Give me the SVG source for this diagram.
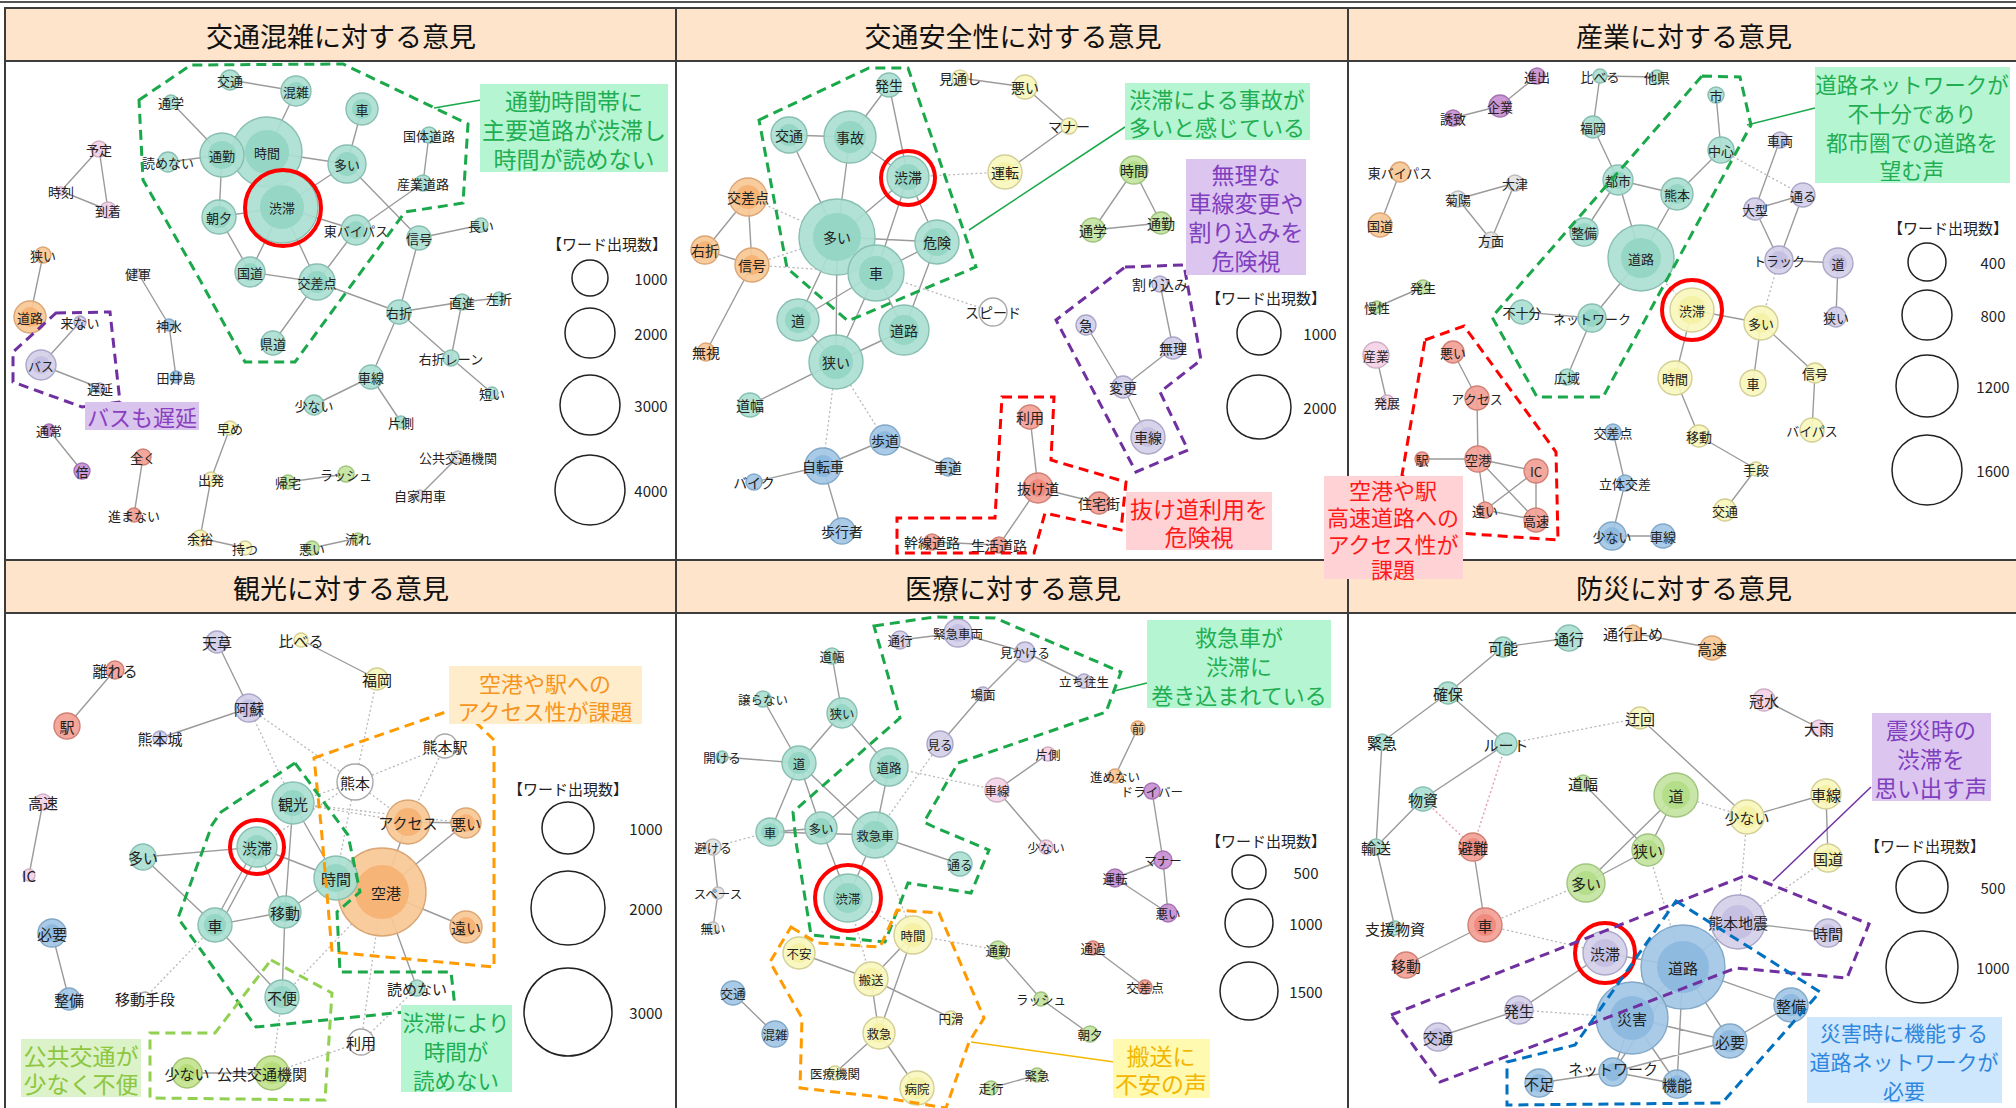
<svg xmlns="http://www.w3.org/2000/svg" width="2016" height="1108" viewBox="0 0 2016 1108">
<style>
.bg{fill:#fff}
.hd{fill:#fde4ca;stroke:#3c3c3c;stroke-width:2}
.pn{fill:#fff;stroke:#3c3c3c;stroke-width:2}
.tt{font-family:"Noto Sans CJK JP","Noto Sans CJK SC",sans-serif;font-size:27px;fill:#111;text-anchor:middle;dominant-baseline:central}
.e{fill:none;stroke:#9b9b9b;stroke-width:1.4}
.d{fill:none;stroke:#b8b8b8;stroke-width:1.3;stroke-dasharray:2 2.5}
.dp{fill:none;stroke:#e6a0b4;stroke-width:1.5;stroke-dasharray:2 2.5}
.nd circle{stroke-width:1.4;fill-opacity:.92}
.nd text{font-family:"Noto Sans CJK JP","Noto Sans CJK SC",sans-serif;fill:#222;text-anchor:middle;dominant-baseline:central}
.f12 text{font-size:12.5px}.f13 text{font-size:13px}.f14 text{font-size:14px}.f15 text{font-size:15px}
.t{fill:#aadfd1;stroke:#88bfb1}.t2{fill:#92d5c3;stroke:none}
.o{fill:#f9c896;stroke:#dba675}.o2{fill:#f6b274;stroke:none}
.p{fill:#d3cfe8;stroke:#aba7c8}.p2{fill:#c4bfe1;stroke:none}
.y{fill:#f8f6bd;stroke:#d3cf95}.y2{fill:#f4f1a6;stroke:none}
.g{fill:#c3e4a0;stroke:#a0c57e}.g2{fill:#b3dd88;stroke:none}
.b{fill:#a3c7e5;stroke:#82a8c8}.b2{fill:#8db9df;stroke:none}
.k{fill:#f4d3e7;stroke:#d0b0c4}
.r{fill:#f3a095;stroke:#d08075}.r2{fill:#ef8a7d;stroke:none}
.m{fill:#c88fd2;stroke:#a673b2}
.w{fill:#fff;stroke:#a8a8a8}
.s{fill:#e4e4e4;stroke:#bcbcbc}
.l{fill:#c4e38f;stroke:#a2c46e}.l2{fill:#b5dc78;stroke:none}
.ring{fill:none;stroke:#f00;stroke-width:4}
.zg{fill:none;stroke:#1aa84a;stroke-width:3;stroke-dasharray:10 6}
.zp{fill:none;stroke:#7030a0;stroke-width:3;stroke-dasharray:10 6}
.zr{fill:none;stroke:#ff0000;stroke-width:3;stroke-dasharray:10 6}
.zo{fill:none;stroke:#ff9a00;stroke-width:3;stroke-dasharray:10 6}
.zl{fill:none;stroke:#92d050;stroke-width:3;stroke-dasharray:10 6}
.zb{fill:none;stroke:#0070c0;stroke-width:3;stroke-dasharray:10 6}
.an{font-family:"Noto Sans CJK JP","Noto Sans CJK SC",sans-serif;text-anchor:middle;dominant-baseline:central}
.lg text{font-family:"Noto Sans CJK JP","Noto Sans CJK SC",sans-serif;font-size:15px;fill:#222;text-anchor:middle;dominant-baseline:central}
.lg circle{fill:none;stroke:#222;stroke-width:1.5}
</style>
<rect class="bg" x="0" y="0" width="2016" height="1108"/>
<g id="frame">
<line x1="0" y1="2" x2="2016" y2="2" stroke="#555" stroke-width="2"/>
<rect class="pn" x="5" y="61" width="671" height="499"/>
<rect class="pn" x="676" y="61" width="672" height="499"/>
<rect class="pn" x="1348" y="61" width="672" height="499"/>
<rect class="pn" x="5" y="613" width="671" height="500"/>
<rect class="pn" x="676" y="613" width="672" height="500"/>
<rect class="pn" x="1348" y="613" width="672" height="500"/>
<rect class="hd" x="5" y="8" width="671" height="53"/>
<rect class="hd" x="676" y="8" width="672" height="53"/>
<rect class="hd" x="1348" y="8" width="672" height="53"/>
<rect class="hd" x="5" y="560" width="671" height="53"/>
<rect class="hd" x="676" y="560" width="672" height="53"/>
<rect class="hd" x="1348" y="560" width="672" height="53"/>
<text class="tt" x="341" y="35">交通混雑に対する意見</text>
<text class="tt" x="1013" y="35">交通安全性に対する意見</text>
<text class="tt" x="1684" y="35">産業に対する意見</text>
<text class="tt" x="341" y="587">観光に対する意見</text>
<text class="tt" x="1013" y="587">医療に対する意見</text>
<text class="tt" x="1684" y="587">防災に対する意見</text>
</g>
<g id="connectors">
<path class="e" d="M230 80L296 91M296 91L267 152M171 102L222 155M168 162L222 155M222 155L267 152M267 152L347 164M362 109L347 164M267 152L282 207M222 155L219 217M219 217L282 207M282 207L347 164M282 207L356 230M347 164L419 238M429 135L423 183M423 183L356 230M219 217L250 272M282 207L250 272M250 272L317 282M282 207L317 282M356 230L317 282M419 238L481 225M419 238L399 312M317 282L399 312M317 282L273 343M399 312L462 302M462 302L499 298M462 302L451 358M399 312L451 358M451 358L492 393M399 312L371 377M371 377L314 405M371 377L401 422M99 149L61 191M99 149L108 210M61 191L108 210M43 255L30 317M138 273L169 325M169 325L176 377M80 322L41 365M41 365L100 388M49 430L82 471M143 457L134 515M230 428L211 479M211 479L200 538M200 538L245 548M288 482L346 474M312 548L358 538M458 457L420 495"/>
<path class="e" d="M889 85L850 137M889 85L908 177M960 78L1025 87M1025 87L1069 126M1069 126L1005 172M789 135L850 137M789 135L837 237M850 137L908 177M850 137L837 237M908 177L837 237M908 177L876 273M908 177L937 242M837 237L937 242M876 273L937 242M837 237L876 273M748 197L705 250M748 197L752 265M705 250L752 265M752 265L706 352M1134 170L1093 230M1134 170L1161 223M1093 230L1161 223M837 237L798 320M837 237L836 362M876 273L798 320M876 273L836 362M876 273L904 330M937 242L904 330M798 320L836 362M836 362L904 330M836 362L750 405M885 440L823 466M885 440L948 467M823 466L754 482M823 466L842 531M1160 284L1173 348M1173 348L1123 387M1086 325L1123 387M1123 387L1148 437M1030 417L1038 488M1038 488L1099 503M1038 488L999 545M932 542L999 545"/>
<path class="d" d="M908 177L1005 172M748 197L837 237M752 265L837 237M752 265L876 273M876 273L993 312M836 362L885 440M836 362L823 466"/>
<path class="e" d="M1537 76L1500 106M1500 106L1453 118M1600 76L1657 77M1600 76L1593 127M1593 127L1618 180M1716 95L1721 150M1721 150L1677 194M1618 180L1677 194M1618 180L1584 232M1618 180L1641 258M1677 194L1641 258M1641 258L1592 318M1400 172L1380 225M1458 199L1515 183M1458 199L1491 240M1515 183L1491 240M1780 140L1755 209M1755 209L1803 195M1755 209L1779 260M1803 195L1779 260M1779 260L1838 263M1838 263L1836 317M1423 287L1377 307M1376 355L1387 402M1522 312L1592 318M1592 318L1567 377M1692 310L1761 323M1692 310L1675 378M1761 323L1753 383M1761 323L1815 373M1815 373L1812 430M1675 378L1699 436M1699 436L1756 469M1756 469L1725 510M1613 432L1625 483M1625 483L1612 536M1612 536L1663 536M1453 352L1477 398M1477 398L1478 459M1422 459L1478 459M1478 459L1536 471M1478 459L1485 510M1478 459L1536 520M1536 471L1485 510M1536 471L1536 520M1485 510L1536 520"/>
<path class="d" d="M1721 150L1803 195M1641 258L1692 310M1779 260L1761 323"/>
<path class="e" d="M217 642L249 708M249 708L160 738M115 670L67 726M301 640L377 679M43 802L29 875M293 803L285 912M293 803L336 878M257 847L143 857M254 849L212 927M261 849L219 927M257 847L285 912M257 847L336 878M143 857L215 925M215 925L285 912M215 925L282 997M285 912L282 997M285 912L336 878M336 878L382 892M408 822L382 892M408 822L466 823M466 823L382 892M382 892L466 927M382 892L417 988M52 933L69 999M187 1073L272 1073"/>
<path class="d" d="M249 708L293 803M249 708L355 782M377 679L355 782M445 746L355 782M445 746L408 822M355 782L293 803M355 782L408 822M355 782L336 878M293 803L408 822M257 847L355 782M145 998L215 925M282 997L272 1073M361 1042L272 1073M361 1042L382 892M282 997L382 892M293 803L466 823M417 988L361 1042"/>
<path class="e" d="M900 640L958 633M958 633L1025 652M1025 652L1084 681M1025 652L983 694M983 694L940 744M832 656L842 713M842 713L799 763M842 713L889 767M763 699L799 763M722 757L799 763M799 763L770 832M799 763L821 828M799 763L875 835M889 767L821 828M889 767L875 835M770 832L821 828M770 832L875 835M821 828L848 898M875 835L848 898M875 835L960 864M1048 754L997 790M997 790L1046 847M1138 728L1115 776M1152 791L1163 860M713 847L718 893M718 893L713 928M913 935L871 979M913 935L879 1033M799 953L871 979M871 979L951 1018M871 979L879 1033M879 1033L835 1073M879 1033L917 1088M733 993L775 1034M998 950L1041 999M1041 999L1090 1034M1093 948L1145 987M1163 860L1115 878M1163 860L1168 913M1115 878L1168 913M991 1088L1037 1075"/>
<path class="d" d="M713 847L770 832M889 767L997 790M940 744L875 835M875 835L913 935M848 898L871 979M913 935L998 950M848 898L913 935"/>
<path class="e" d="M1503 647L1569 638M1633 633L1712 648M1503 647L1448 693M1448 693L1382 742M1448 693L1506 744M1506 744L1423 799M1764 700L1819 728M1640 718L1747 817M1747 817L1826 794M1826 794L1828 858M1583 783L1648 850M1676 795L1648 850M1676 795L1586 883M1648 850L1586 883M1382 742L1376 847M1423 799L1376 847M1376 847L1395 928M1473 847L1485 925M1485 925L1406 965M1738 922L1828 933M1738 922L1683 967M1605 953L1683 967M1605 953L1519 1010M1519 1010L1438 1037M1683 967L1632 1018M1683 967L1791 1005M1683 967L1730 1041M1683 967L1677 1084M1683 967L1613 1072M1632 1018L1730 1041M1632 1018L1613 1072M1632 1018L1677 1084M1791 1005L1730 1041M1730 1041L1613 1072M1613 1072L1539 1083M1613 1072L1677 1084"/>
<path class="d" d="M1506 744L1640 718M1676 795L1747 817M1485 925L1586 883M1485 925L1605 953M1519 1010L1632 1018M1738 922L1828 858M1648 850L1683 967M1747 817L1738 922"/>
<path class="dp" d="M1506 744L1473 847M1423 799L1473 847"/>
</g>
<g id="nodes-p1" class="nd f13">
<g id="p1-kotsu"><circle class="t" cx="230" cy="80" r="10"/><text x="230" y="80">交通</text></g>
<g id="p1-konzatsu"><circle class="t" cx="296" cy="91" r="15"/><circle class="t2" cx="296" cy="91" r="9"/><text x="296" y="91">混雑</text></g>
<g id="p1-tsugaku"><circle class="t" cx="171" cy="102" r="7"/><text x="171" y="102">通学</text></g>
<g id="p1-kuruma"><circle class="t" cx="362" cy="109" r="16"/><circle class="t2" cx="362" cy="109" r="10"/><text x="362" y="109">車</text></g>
<g id="p1-jikan"><circle class="t" cx="267" cy="152" r="35"/><circle class="t2" cx="267" cy="152" r="22"/><text x="267" y="152">時間</text></g>
<g id="p1-tsukin"><circle class="t" cx="222" cy="155" r="22"/><circle class="t2" cx="222" cy="155" r="14"/><text x="222" y="155">通勤</text></g>
<g id="p1-yomenai"><circle class="t" cx="168" cy="162" r="10"/><text x="168" y="162">読めない</text></g>
<g id="p1-ooi"><circle class="t" cx="347" cy="164" r="19"/><circle class="t2" cx="347" cy="164" r="12"/><text x="347" y="164">多い</text></g>
<g id="p1-kokutai"><circle class="t" cx="429" cy="135" r="8"/><text x="429" y="135">国体道路</text></g>
<g id="p1-sangyo"><circle class="t" cx="423" cy="183" r="8"/><text x="423" y="183">産業道路</text></g>
<g id="p1-jutai"><circle class="t" cx="282" cy="207" r="36"/><circle class="t2" cx="282" cy="207" r="22"/><text x="282" y="207">渋滞</text></g>
<g id="p1-choseki"><circle class="t" cx="219" cy="217" r="17"/><circle class="t2" cx="219" cy="217" r="11"/><text x="219" y="217">朝夕</text></g>
<g id="p1-higashi"><circle class="t" cx="356" cy="230" r="15"/><circle class="t2" cx="356" cy="230" r="9"/><text x="356" y="230">東バイパス</text></g>
<g id="p1-shingo"><circle class="t" cx="419" cy="238" r="12"/><text x="419" y="238">信号</text></g>
<g id="p1-nagai"><circle class="t" cx="481" cy="225" r="7"/><text x="481" y="225">長い</text></g>
<g id="p1-yotei"><circle class="k" cx="99" cy="149" r="8"/><text x="99" y="149">予定</text></g>
<g id="p1-jikoku"><circle class="k" cx="61" cy="191" r="4"/><text x="61" y="191">時刻</text></g>
<g id="p1-tochaku"><circle class="k" cx="108" cy="210" r="8"/><text x="108" y="210">到着</text></g>
<g id="p1-semai"><circle class="o" cx="43" cy="255" r="8"/><text x="43" y="255">狭い</text></g>
<g id="p1-kengun"><circle class="s" cx="138" cy="273" r="4"/><text x="138" y="273">健軍</text></g>
<g id="p1-kokudo"><circle class="t" cx="250" cy="272" r="15"/><circle class="t2" cx="250" cy="272" r="9"/><text x="250" y="272">国道</text></g>
<g id="p1-kosaten"><circle class="t" cx="317" cy="282" r="18"/><circle class="t2" cx="317" cy="282" r="11"/><text x="317" y="282">交差点</text></g>
<g id="p1-doro"><circle class="o" cx="30" cy="317" r="16"/><circle class="o2" cx="30" cy="317" r="10"/><text x="30" y="317">道路</text></g>
<g id="p1-konai"><circle class="p" cx="80" cy="322" r="6"/><text x="80" y="322">来ない</text></g>
<g id="p1-bus"><circle class="p" cx="41" cy="365" r="15"/><circle class="p2" cx="41" cy="365" r="9"/><text x="41" y="365">バス</text></g>
<g id="p1-chien"><circle class="p" cx="100" cy="388" r="5"/><text x="100" y="388">遅延</text></g>
<g id="p1-kuwamizu"><circle class="b" cx="169" cy="325" r="6"/><text x="169" y="325">神水</text></g>
<g id="p1-taijima"><circle class="b" cx="176" cy="377" r="6"/><text x="176" y="377">田井島</text></g>
<g id="p1-kendo"><circle class="t" cx="273" cy="343" r="12"/><text x="273" y="343">県道</text></g>
<g id="p1-usetsu"><circle class="t" cx="399" cy="312" r="12"/><text x="399" y="312">右折</text></g>
<g id="p1-chokushin"><circle class="t" cx="462" cy="302" r="8"/><text x="462" y="302">直進</text></g>
<g id="p1-sasetsu"><circle class="t" cx="499" cy="298" r="6"/><text x="499" y="298">左折</text></g>
<g id="p1-lane"><circle class="t" cx="451" cy="358" r="8"/><text x="451" y="358">右折レーン</text></g>
<g id="p1-shasen"><circle class="t" cx="371" cy="377" r="12"/><text x="371" y="377">車線</text></g>
<g id="p1-sukunai"><circle class="t" cx="314" cy="405" r="10"/><text x="314" y="405">少ない</text></g>
<g id="p1-mijikai"><circle class="t" cx="492" cy="393" r="6"/><text x="492" y="393">短い</text></g>
<g id="p1-katagawa"><circle class="t" cx="401" cy="422" r="6"/><text x="401" y="422">片側</text></g>
<g id="p1-tsujo"><circle class="m" cx="49" cy="430" r="6"/><text x="49" y="430">通常</text></g>
<g id="p1-bai"><circle class="m" cx="82" cy="471" r="8"/><text x="82" y="471">倍</text></g>
<g id="p1-mattaku"><circle class="r" cx="143" cy="457" r="8"/><text x="143" y="457">全く</text></g>
<g id="p1-susumanai"><circle class="r" cx="134" cy="515" r="7"/><text x="134" y="515">進まない</text></g>
<g id="p1-hayame"><circle class="y" cx="230" cy="428" r="7"/><text x="230" y="428">早め</text></g>
<g id="p1-shuppatsu"><circle class="y" cx="211" cy="479" r="7"/><text x="211" y="479">出発</text></g>
<g id="p1-yoyu"><circle class="y" cx="200" cy="538" r="8"/><text x="200" y="538">余裕</text></g>
<g id="p1-motsu"><circle class="y" cx="245" cy="548" r="7"/><text x="245" y="548">持つ</text></g>
<g id="p1-kitaku"><circle class="g" cx="288" cy="482" r="7"/><text x="288" y="482">帰宅</text></g>
<g id="p1-rush"><circle class="g" cx="346" cy="474" r="8"/><text x="346" y="474">ラッシュ</text></g>
<g id="p1-warui"><circle class="g" cx="312" cy="548" r="7"/><text x="312" y="548">悪い</text></g>
<g id="p1-nagare"><circle class="g" cx="358" cy="538" r="5"/><text x="358" y="538">流れ</text></g>
<g id="p1-kokyo"><circle class="s" cx="458" cy="457" r="6"/><text x="458" y="457">公共交通機関</text></g>
<g id="p1-jikayo"><circle class="s" cx="420" cy="495" r="5"/><text x="420" y="495">自家用車</text></g>
</g>
<g id="nodes-p2" class="nd f14">
<g id="p2-hassei"><circle class="t" cx="889" cy="85" r="12"/><text x="889" y="85">発生</text></g>
<g id="p2-miooshi"><circle class="y" cx="960" cy="78" r="8"/><text x="960" y="78">見通し</text></g>
<g id="p2-warui"><circle class="y" cx="1025" cy="87" r="12"/><text x="1025" y="87">悪い</text></g>
<g id="p2-manner"><circle class="y" cx="1069" cy="126" r="8"/><text x="1069" y="126">マナー</text></g>
<g id="p2-kotsu"><circle class="t" cx="789" cy="135" r="18"/><circle class="t2" cx="789" cy="135" r="11"/><text x="789" y="135">交通</text></g>
<g id="p2-jiko"><circle class="t" cx="850" cy="137" r="26"/><circle class="t2" cx="850" cy="137" r="16"/><text x="850" y="137">事故</text></g>
<g id="p2-jutai"><circle class="t" cx="908" cy="177" r="21"/><circle class="t2" cx="908" cy="177" r="13"/><text x="908" y="177">渋滞</text></g>
<g id="p2-unten"><circle class="y" cx="1005" cy="172" r="17"/><circle class="y2" cx="1005" cy="172" r="10"/><text x="1005" y="172">運転</text></g>
<g id="p2-kosaten"><circle class="o" cx="748" cy="197" r="19"/><circle class="o2" cx="748" cy="197" r="12"/><text x="748" y="197">交差点</text></g>
<g id="p2-ooi"><circle class="t" cx="837" cy="237" r="38"/><circle class="t2" cx="837" cy="237" r="24"/><text x="837" y="237">多い</text></g>
<g id="p2-kiken"><circle class="t" cx="937" cy="242" r="22"/><circle class="t2" cx="937" cy="242" r="14"/><text x="937" y="242">危険</text></g>
<g id="p2-usetsu"><circle class="o" cx="705" cy="250" r="14"/><circle class="o2" cx="705" cy="250" r="9"/><text x="705" y="250">右折</text></g>
<g id="p2-shingo"><circle class="o" cx="752" cy="265" r="17"/><circle class="o2" cx="752" cy="265" r="10"/><text x="752" y="265">信号</text></g>
<g id="p2-kuruma"><circle class="t" cx="876" cy="273" r="28"/><circle class="t2" cx="876" cy="273" r="17"/><text x="876" y="273">車</text></g>
<g id="p2-jikan"><circle class="g" cx="1134" cy="170" r="14"/><circle class="g2" cx="1134" cy="170" r="9"/><text x="1134" y="170">時間</text></g>
<g id="p2-tsugaku"><circle class="g" cx="1093" cy="230" r="12"/><text x="1093" y="230">通学</text></g>
<g id="p2-tsukin"><circle class="g" cx="1161" cy="223" r="11"/><text x="1161" y="223">通勤</text></g>
<g id="p2-michi"><circle class="t" cx="798" cy="320" r="21"/><circle class="t2" cx="798" cy="320" r="13"/><text x="798" y="320">道</text></g>
<g id="p2-doro"><circle class="t" cx="904" cy="330" r="25"/><circle class="t2" cx="904" cy="330" r="15"/><text x="904" y="330">道路</text></g>
<g id="p2-semai"><circle class="t" cx="836" cy="362" r="27"/><circle class="t2" cx="836" cy="362" r="17"/><text x="836" y="362">狭い</text></g>
<g id="p2-speed"><circle class="w" cx="993" cy="312" r="14"/><text x="993" y="312">スピード</text></g>
<g id="p2-mushi"><circle class="o" cx="706" cy="352" r="9"/><text x="706" y="352">無視</text></g>
<g id="p2-michihaba"><circle class="t" cx="750" cy="405" r="12"/><text x="750" y="405">道幅</text></g>
<g id="p2-hodo"><circle class="b" cx="885" cy="440" r="15"/><circle class="b2" cx="885" cy="440" r="9"/><text x="885" y="440">歩道</text></g>
<g id="p2-jitensha"><circle class="b" cx="823" cy="466" r="18"/><circle class="b2" cx="823" cy="466" r="11"/><text x="823" y="466">自転車</text></g>
<g id="p2-shado"><circle class="b" cx="948" cy="467" r="9"/><text x="948" y="467">車道</text></g>
<g id="p2-bike"><circle class="b" cx="754" cy="482" r="8"/><text x="754" y="482">バイク</text></g>
<g id="p2-hokosha"><circle class="b" cx="842" cy="531" r="13"/><text x="842" y="531">歩行者</text></g>
<g id="p2-kyu"><circle class="p" cx="1086" cy="325" r="10"/><text x="1086" y="325">急</text></g>
<g id="p2-warikomi"><circle class="p" cx="1160" cy="284" r="8"/><text x="1160" y="284">割り込み</text></g>
<g id="p2-muri"><circle class="p" cx="1173" cy="348" r="11"/><text x="1173" y="348">無理</text></g>
<g id="p2-henko"><circle class="p" cx="1123" cy="387" r="11"/><text x="1123" y="387">変更</text></g>
<g id="p2-shasen"><circle class="p" cx="1148" cy="437" r="17"/><circle class="p2" cx="1148" cy="437" r="10"/><text x="1148" y="437">車線</text></g>
<g id="p2-riyo"><circle class="r" cx="1030" cy="417" r="12"/><text x="1030" y="417">利用</text></g>
<g id="p2-nukemichi"><circle class="r" cx="1038" cy="488" r="15"/><circle class="r2" cx="1038" cy="488" r="9"/><text x="1038" y="488">抜け道</text></g>
<g id="p2-jutakugai"><circle class="r" cx="1099" cy="503" r="11"/><text x="1099" y="503">住宅街</text></g>
<g id="p2-kansen"><circle class="r" cx="932" cy="542" r="8"/><text x="932" y="542">幹線道路</text></g>
<g id="p2-seikatsu"><circle class="r" cx="999" cy="545" r="8"/><text x="999" y="545">生活道路</text></g>
</g>
<g id="nodes-p3" class="nd f13">
<g id="p3-shinshutsu"><circle class="m" cx="1537" cy="76" r="8"/><text x="1537" y="76">進出</text></g>
<g id="p3-kuraberu"><circle class="t" cx="1600" cy="76" r="7"/><text x="1600" y="76">比べる</text></g>
<g id="p3-taken"><circle class="t" cx="1657" cy="77" r="7"/><text x="1657" y="77">他県</text></g>
<g id="p3-kigyo"><circle class="m" cx="1500" cy="106" r="11"/><text x="1500" y="106">企業</text></g>
<g id="p3-yuchi"><circle class="m" cx="1453" cy="118" r="8"/><text x="1453" y="118">誘致</text></g>
<g id="p3-fukuoka"><circle class="t" cx="1593" cy="127" r="11"/><text x="1593" y="127">福岡</text></g>
<g id="p3-shi"><circle class="t" cx="1716" cy="95" r="8"/><text x="1716" y="95">市</text></g>
<g id="p3-chushin"><circle class="t" cx="1721" cy="150" r="13"/><text x="1721" y="150">中心</text></g>
<g id="p3-sharyo"><circle class="p" cx="1780" cy="140" r="8"/><text x="1780" y="140">車両</text></g>
<g id="p3-higashi"><circle class="o" cx="1400" cy="172" r="10"/><text x="1400" y="172">東バイパス</text></g>
<g id="p3-ozu"><circle class="s" cx="1515" cy="183" r="8"/><text x="1515" y="183">大津</text></g>
<g id="p3-kikuyo"><circle class="s" cx="1458" cy="199" r="8"/><text x="1458" y="199">菊陽</text></g>
<g id="p3-homen"><circle class="s" cx="1491" cy="240" r="8"/><text x="1491" y="240">方面</text></g>
<g id="p3-kokudo"><circle class="o" cx="1380" cy="225" r="12"/><text x="1380" y="225">国道</text></g>
<g id="p3-toshi"><circle class="t" cx="1618" cy="180" r="15"/><circle class="t2" cx="1618" cy="180" r="9"/><text x="1618" y="180">都市</text></g>
<g id="p3-kumamoto"><circle class="t" cx="1677" cy="194" r="16"/><circle class="t2" cx="1677" cy="194" r="10"/><text x="1677" y="194">熊本</text></g>
<g id="p3-seibi"><circle class="t" cx="1584" cy="232" r="14"/><circle class="t2" cx="1584" cy="232" r="9"/><text x="1584" y="232">整備</text></g>
<g id="p3-doro"><circle class="t" cx="1641" cy="258" r="33"/><circle class="t2" cx="1641" cy="258" r="20"/><text x="1641" y="258">道路</text></g>
<g id="p3-ogata"><circle class="p" cx="1755" cy="209" r="11"/><text x="1755" y="209">大型</text></g>
<g id="p3-tooru"><circle class="p" cx="1803" cy="195" r="12"/><text x="1803" y="195">通る</text></g>
<g id="p3-truck"><circle class="p" cx="1779" cy="260" r="14"/><circle class="p2" cx="1779" cy="260" r="9"/><text x="1779" y="260">トラック</text></g>
<g id="p3-michi"><circle class="p" cx="1838" cy="263" r="15"/><circle class="p2" cx="1838" cy="263" r="9"/><text x="1838" y="263">道</text></g>
<g id="p3-hassei"><circle class="g" cx="1423" cy="287" r="7"/><text x="1423" y="287">発生</text></g>
<g id="p3-mansei"><circle class="g" cx="1377" cy="307" r="6"/><text x="1377" y="307">慢性</text></g>
<g id="p3-sangyo"><circle class="k" cx="1376" cy="355" r="13"/><text x="1376" y="355">産業</text></g>
<g id="p3-hatten"><circle class="k" cx="1387" cy="402" r="7"/><text x="1387" y="402">発展</text></g>
<g id="p3-fujubun"><circle class="t" cx="1522" cy="312" r="12"/><text x="1522" y="312">不十分</text></g>
<g id="p3-network"><circle class="t" cx="1592" cy="318" r="14"/><circle class="t2" cx="1592" cy="318" r="9"/><text x="1592" y="318">ネットワーク</text></g>
<g id="p3-koiki"><circle class="t" cx="1567" cy="377" r="8"/><text x="1567" y="377">広域</text></g>
<g id="p3-jutai"><circle class="y" cx="1692" cy="310" r="22"/><circle class="y2" cx="1692" cy="310" r="14"/><text x="1692" y="310">渋滞</text></g>
<g id="p3-ooi"><circle class="y" cx="1761" cy="323" r="17"/><circle class="y2" cx="1761" cy="323" r="10"/><text x="1761" y="323">多い</text></g>
<g id="p3-jikan"><circle class="y" cx="1675" cy="378" r="17"/><circle class="y2" cx="1675" cy="378" r="10"/><text x="1675" y="378">時間</text></g>
<g id="p3-kuruma"><circle class="y" cx="1753" cy="383" r="13"/><text x="1753" y="383">車</text></g>
<g id="p3-shingo"><circle class="y" cx="1815" cy="373" r="10"/><text x="1815" y="373">信号</text></g>
<g id="p3-semai"><circle class="p" cx="1836" cy="317" r="10"/><text x="1836" y="317">狭い</text></g>
<g id="p3-bypass"><circle class="y" cx="1812" cy="430" r="12"/><text x="1812" y="430">バイパス</text></g>
<g id="p3-ido"><circle class="y" cx="1699" cy="436" r="11"/><text x="1699" y="436">移動</text></g>
<g id="p3-shudan"><circle class="y" cx="1756" cy="469" r="7"/><text x="1756" y="469">手段</text></g>
<g id="p3-kotsu"><circle class="y" cx="1725" cy="510" r="11"/><text x="1725" y="510">交通</text></g>
<g id="p3-kosaten"><circle class="b" cx="1613" cy="432" r="8"/><text x="1613" y="432">交差点</text></g>
<g id="p3-rittai"><circle class="b" cx="1625" cy="483" r="8"/><text x="1625" y="483">立体交差</text></g>
<g id="p3-sukunai"><circle class="b" cx="1612" cy="536" r="14"/><circle class="b2" cx="1612" cy="536" r="9"/><text x="1612" y="536">少ない</text></g>
<g id="p3-shasen"><circle class="b" cx="1663" cy="536" r="12"/><text x="1663" y="536">車線</text></g>
<g id="p3-warui"><circle class="r" cx="1453" cy="352" r="11"/><text x="1453" y="352">悪い</text></g>
<g id="p3-access"><circle class="r" cx="1477" cy="398" r="12"/><text x="1477" y="398">アクセス</text></g>
<g id="p3-eki"><circle class="r" cx="1422" cy="459" r="7"/><text x="1422" y="459">駅</text></g>
<g id="p3-kuko"><circle class="r" cx="1478" cy="459" r="13"/><text x="1478" y="459">空港</text></g>
<g id="p3-ic"><circle class="r" cx="1536" cy="471" r="12"/><text x="1536" y="471">IC</text></g>
<g id="p3-tooi"><circle class="r" cx="1485" cy="510" r="8"/><text x="1485" y="510">遠い</text></g>
<g id="p3-kosoku"><circle class="r" cx="1536" cy="520" r="12"/><text x="1536" y="520">高速</text></g>
</g>
<g id="nodes-p4" class="nd f15">
<g id="p4-amakusa"><circle class="p" cx="217" cy="642" r="11"/><text x="217" y="642">天草</text></g>
<g id="p4-kuraberu"><circle class="y" cx="301" cy="640" r="7"/><text x="301" y="640">比べる</text></g>
<g id="p4-hanareru"><circle class="r" cx="115" cy="670" r="9"/><text x="115" y="670">離れる</text></g>
<g id="p4-fukuoka"><circle class="y" cx="377" cy="679" r="11"/><text x="377" y="679">福岡</text></g>
<g id="p4-aso"><circle class="p" cx="249" cy="708" r="14"/><circle class="p2" cx="249" cy="708" r="9"/><text x="249" y="708">阿蘇</text></g>
<g id="p4-eki"><circle class="r" cx="67" cy="726" r="13"/><text x="67" y="726">駅</text></g>
<g id="p4-kumamotojo"><circle class="p" cx="160" cy="738" r="7"/><text x="160" y="738">熊本城</text></g>
<g id="p4-kumamotoeki"><circle class="w" cx="445" cy="746" r="12"/><text x="445" y="746">熊本駅</text></g>
<g id="p4-kumamoto"><circle class="w" cx="355" cy="782" r="18"/><text x="355" y="782">熊本</text></g>
<g id="p4-kanko"><circle class="t" cx="293" cy="803" r="21"/><circle class="t2" cx="293" cy="803" r="13"/><text x="293" y="803">観光</text></g>
<g id="p4-kosoku"><circle class="k" cx="43" cy="802" r="8"/><text x="43" y="802">高速</text></g>
<g id="p4-ooi"><circle class="t" cx="143" cy="857" r="13"/><text x="143" y="857">多い</text></g>
<g id="p4-jutai"><circle class="t" cx="257" cy="847" r="20"/><circle class="t2" cx="257" cy="847" r="12"/><text x="257" y="847">渋滞</text></g>
<g id="p4-ic"><circle class="k" cx="29" cy="875" r="6"/><text x="29" y="875">IC</text></g>
<g id="p4-kuko"><circle class="o" cx="382" cy="892" r="44"/><circle class="o2" cx="382" cy="892" r="27"/><text x="386" y="892">空港</text></g>
<g id="p4-jikan"><circle class="t" cx="336" cy="878" r="22" fill-opacity=".7"/><circle class="t2" cx="336" cy="878" r="14" fill-opacity=".7"/><text x="336" y="878">時間</text></g>
<g id="p4-access"><circle class="o" cx="408" cy="822" r="22"/><circle class="o2" cx="408" cy="822" r="14"/><text x="408" y="822">アクセス</text></g>
<g id="p4-warui"><circle class="o" cx="466" cy="823" r="15"/><circle class="o2" cx="466" cy="823" r="9"/><text x="466" y="823">悪い</text></g>
<g id="p4-tooi"><circle class="o" cx="466" cy="927" r="16"/><circle class="o2" cx="466" cy="927" r="10"/><text x="466" y="927">遠い</text></g>
<g id="p4-ido"><circle class="t" cx="285" cy="912" r="16"/><circle class="t2" cx="285" cy="912" r="10"/><text x="285" y="912">移動</text></g>
<g id="p4-kuruma"><circle class="t" cx="215" cy="925" r="17"/><circle class="t2" cx="215" cy="925" r="11"/><text x="215" y="925">車</text></g>
<g id="p4-hitsuyo"><circle class="b" cx="52" cy="933" r="14"/><circle class="b2" cx="52" cy="933" r="9"/><text x="52" y="933">必要</text></g>
<g id="p4-seibi"><circle class="b" cx="69" cy="999" r="11"/><text x="69" y="999">整備</text></g>
<g id="p4-idoshudan"><circle class="w" cx="145" cy="998" r="6"/><text x="145" y="998">移動手段</text></g>
<g id="p4-fuben"><circle class="t" cx="282" cy="997" r="17"/><circle class="t2" cx="282" cy="997" r="11"/><text x="282" y="997">不便</text></g>
<g id="p4-yomenai"><circle class="t" cx="417" cy="988" r="8"/><text x="417" y="988">読めない</text></g>
<g id="p4-riyo"><circle class="w" cx="361" cy="1042" r="13"/><text x="361" y="1042">利用</text></g>
<g id="p4-sukunai"><circle class="l" cx="187" cy="1073" r="15"/><circle class="l2" cx="187" cy="1073" r="9"/><text x="187" y="1073">少ない</text></g>
<g id="p4-kokyo"><circle class="l" cx="272" cy="1073" r="17"/><circle class="l2" cx="272" cy="1073" r="11"/><text x="262" y="1073">公共交通機関</text></g>
</g>
<g id="nodes-p5" class="nd f12">
<g id="p5-tsuko"><circle class="p" cx="900" cy="640" r="9"/><text x="900" y="640">通行</text></g>
<g id="p5-kinkyusharyo"><circle class="p" cx="958" cy="633" r="14"/><circle class="p2" cx="958" cy="633" r="9"/><text x="958" y="633">緊急車両</text></g>
<g id="p5-mikakeru"><circle class="p" cx="1025" cy="652" r="10"/><text x="1025" y="652">見かける</text></g>
<g id="p5-tachiojo"><circle class="p" cx="1084" cy="681" r="7"/><text x="1084" y="681">立ち往生</text></g>
<g id="p5-michihaba"><circle class="t" cx="832" cy="656" r="8"/><text x="832" y="656">道幅</text></g>
<g id="p5-yuzuranai"><circle class="t" cx="763" cy="699" r="8"/><text x="763" y="699">譲らない</text></g>
<g id="p5-bamen"><circle class="p" cx="983" cy="694" r="7"/><text x="983" y="694">場面</text></g>
<g id="p5-semai"><circle class="t" cx="842" cy="713" r="15"/><circle class="t2" cx="842" cy="713" r="9"/><text x="842" y="713">狭い</text></g>
<g id="p5-miru"><circle class="p" cx="940" cy="744" r="13"/><text x="940" y="744">見る</text></g>
<g id="p5-akeru"><circle class="t" cx="722" cy="757" r="6"/><text x="722" y="757">開ける</text></g>
<g id="p5-michi"><circle class="t" cx="799" cy="763" r="17"/><circle class="t2" cx="799" cy="763" r="11"/><text x="799" y="763">道</text></g>
<g id="p5-doro"><circle class="t" cx="889" cy="767" r="19"/><circle class="t2" cx="889" cy="767" r="12"/><text x="889" y="767">道路</text></g>
<g id="p5-katagawa"><circle class="k" cx="1048" cy="754" r="7"/><text x="1048" y="754">片側</text></g>
<g id="p5-mae"><circle class="o" cx="1138" cy="728" r="7"/><text x="1138" y="728">前</text></g>
<g id="p5-susumenai"><circle class="o" cx="1115" cy="776" r="7"/><text x="1115" y="776">進めない</text></g>
<g id="p5-driver"><circle class="m" cx="1152" cy="791" r="8"/><text x="1152" y="791">ドライバー</text></g>
<g id="p5-shasen"><circle class="k" cx="997" cy="790" r="12"/><text x="997" y="790">車線</text></g>
<g id="p5-kuruma"><circle class="t" cx="770" cy="832" r="14"/><circle class="t2" cx="770" cy="832" r="9"/><text x="770" y="832">車</text></g>
<g id="p5-ooi"><circle class="t" cx="821" cy="828" r="16"/><circle class="t2" cx="821" cy="828" r="10"/><text x="821" y="828">多い</text></g>
<g id="p5-kyukyusha"><circle class="t" cx="875" cy="835" r="23"/><circle class="t2" cx="875" cy="835" r="14"/><text x="875" y="835">救急車</text></g>
<g id="p5-sakeru"><circle class="s" cx="713" cy="847" r="8"/><text x="713" y="847">避ける</text></g>
<g id="p5-space"><circle class="s" cx="718" cy="893" r="6"/><text x="718" y="893">スペース</text></g>
<g id="p5-nai"><circle class="s" cx="713" cy="928" r="6"/><text x="713" y="928">無い</text></g>
<g id="p5-sukunai"><circle class="k" cx="1046" cy="847" r="7"/><text x="1046" y="847">少ない</text></g>
<g id="p5-manner"><circle class="m" cx="1163" cy="860" r="9"/><text x="1163" y="860">マナー</text></g>
<g id="p5-unten"><circle class="m" cx="1115" cy="878" r="9"/><text x="1115" y="878">運転</text></g>
<g id="p5-warui"><circle class="m" cx="1168" cy="913" r="9"/><text x="1168" y="913">悪い</text></g>
<g id="p5-jutai"><circle class="t" cx="848" cy="898" r="24"/><circle class="t2" cx="848" cy="898" r="15"/><text x="848" y="898">渋滞</text></g>
<g id="p5-tooru"><circle class="t" cx="960" cy="864" r="12"/><text x="960" y="864">通る</text></g>
<g id="p5-jikan"><circle class="y" cx="913" cy="935" r="19"/><circle class="y2" cx="913" cy="935" r="12"/><text x="913" y="935">時間</text></g>
<g id="p5-fuan"><circle class="y" cx="799" cy="953" r="16"/><circle class="y2" cx="799" cy="953" r="10"/><text x="799" y="953">不安</text></g>
<g id="p5-hanso"><circle class="y" cx="871" cy="979" r="17"/><circle class="y2" cx="871" cy="979" r="11"/><text x="871" y="979">搬送</text></g>
<g id="p5-tsukin"><circle class="g" cx="998" cy="950" r="9"/><text x="998" y="950">通勤</text></g>
<g id="p5-tsuka"><circle class="r" cx="1093" cy="948" r="7"/><text x="1093" y="948">通過</text></g>
<g id="p5-kosaten"><circle class="r" cx="1145" cy="987" r="7"/><text x="1145" y="987">交差点</text></g>
<g id="p5-kotsu"><circle class="b" cx="733" cy="993" r="12"/><text x="733" y="993">交通</text></g>
<g id="p5-konzatsu"><circle class="b" cx="775" cy="1034" r="13"/><text x="775" y="1034">混雑</text></g>
<g id="p5-enkatsu"><circle class="y" cx="951" cy="1018" r="7"/><text x="951" y="1018">円滑</text></g>
<g id="p5-kyukyu"><circle class="y" cx="879" cy="1033" r="16"/><circle class="y2" cx="879" cy="1033" r="10"/><text x="879" y="1033">救急</text></g>
<g id="p5-rush"><circle class="g" cx="1041" cy="999" r="7"/><text x="1041" y="999">ラッシュ</text></g>
<g id="p5-choseki"><circle class="g" cx="1090" cy="1034" r="8"/><text x="1090" y="1034">朝夕</text></g>
<g id="p5-iryo"><circle class="y" cx="835" cy="1073" r="7"/><text x="835" y="1073">医療機関</text></g>
<g id="p5-byoin"><circle class="y" cx="917" cy="1088" r="17"/><circle class="y2" cx="917" cy="1088" r="11"/><text x="917" y="1088">病院</text></g>
<g id="p5-soko"><circle class="g" cx="991" cy="1088" r="7"/><text x="991" y="1088">走行</text></g>
<g id="p5-kinkyu"><circle class="g" cx="1037" cy="1075" r="7"/><text x="1037" y="1075">緊急</text></g>
</g>
<g id="nodes-p6" class="nd f15">
<g id="p6-kano"><circle class="t" cx="1503" cy="647" r="10"/><text x="1503" y="647">可能</text></g>
<g id="p6-tsuko"><circle class="t" cx="1569" cy="638" r="13"/><text x="1569" y="638">通行</text></g>
<g id="p6-tsukodome"><circle class="o" cx="1633" cy="633" r="8"/><text x="1633" y="633">通行止め</text></g>
<g id="p6-kosoku"><circle class="o" cx="1712" cy="648" r="12"/><text x="1712" y="648">高速</text></g>
<g id="p6-kakuho"><circle class="t" cx="1448" cy="693" r="11"/><text x="1448" y="693">確保</text></g>
<g id="p6-kansui"><circle class="k" cx="1764" cy="700" r="11"/><text x="1764" y="700">冠水</text></g>
<g id="p6-ukai"><circle class="y" cx="1640" cy="718" r="11"/><text x="1640" y="718">迂回</text></g>
<g id="p6-ooame"><circle class="k" cx="1819" cy="728" r="8"/><text x="1819" y="728">大雨</text></g>
<g id="p6-kinkyu"><circle class="t" cx="1382" cy="742" r="8"/><text x="1382" y="742">緊急</text></g>
<g id="p6-route"><circle class="t" cx="1506" cy="744" r="11"/><text x="1506" y="744">ルート</text></g>
<g id="p6-michihaba"><circle class="g" cx="1583" cy="783" r="8"/><text x="1583" y="783">道幅</text></g>
<g id="p6-michi"><circle class="g" cx="1676" cy="795" r="22"/><circle class="g2" cx="1676" cy="795" r="14"/><text x="1676" y="795">道</text></g>
<g id="p6-busshi"><circle class="t" cx="1423" cy="799" r="12"/><text x="1423" y="799">物資</text></g>
<g id="p6-shasen"><circle class="y" cx="1826" cy="794" r="15"/><circle class="y2" cx="1826" cy="794" r="9"/><text x="1826" y="794">車線</text></g>
<g id="p6-sukunai"><circle class="y" cx="1747" cy="817" r="17"/><circle class="y2" cx="1747" cy="817" r="11"/><text x="1747" y="817">少ない</text></g>
<g id="p6-yuso"><circle class="t" cx="1376" cy="847" r="8"/><text x="1376" y="847">輸送</text></g>
<g id="p6-hinan"><circle class="r" cx="1473" cy="847" r="14"/><circle class="r2" cx="1473" cy="847" r="9"/><text x="1473" y="847">避難</text></g>
<g id="p6-semai"><circle class="g" cx="1648" cy="850" r="16"/><circle class="g2" cx="1648" cy="850" r="10"/><text x="1648" y="850">狭い</text></g>
<g id="p6-kokudo"><circle class="y" cx="1828" cy="858" r="14"/><circle class="y2" cx="1828" cy="858" r="9"/><text x="1828" y="858">国道</text></g>
<g id="p6-ooi"><circle class="g" cx="1586" cy="883" r="19"/><circle class="g2" cx="1586" cy="883" r="12"/><text x="1586" y="883">多い</text></g>
<g id="p6-shienbusshi"><circle class="t" cx="1395" cy="928" r="7"/><text x="1395" y="928">支援物資</text></g>
<g id="p6-kuruma"><circle class="r" cx="1485" cy="925" r="17"/><circle class="r2" cx="1485" cy="925" r="11"/><text x="1485" y="925">車</text></g>
<g id="p6-jishin"><circle class="p" cx="1738" cy="922" r="27"/><circle class="p2" cx="1738" cy="922" r="17"/><text x="1738" y="922">熊本地震</text></g>
<g id="p6-jikan"><circle class="p" cx="1828" cy="933" r="14"/><circle class="p2" cx="1828" cy="933" r="9"/><text x="1828" y="933">時間</text></g>
<g id="p6-ido"><circle class="r" cx="1406" cy="965" r="13"/><text x="1406" y="965">移動</text></g>
<g id="p6-jutai"><circle class="p" cx="1605" cy="953" r="22"/><circle class="p2" cx="1605" cy="953" r="14"/><text x="1605" y="953">渋滞</text></g>
<g id="p6-doro"><circle class="b" cx="1683" cy="967" r="42" fill-opacity=".85"/><circle class="b2" cx="1683" cy="967" r="26"/><text x="1683" y="967">道路</text></g>
<g id="p6-hassei"><circle class="p" cx="1519" cy="1010" r="14"/><circle class="p2" cx="1519" cy="1010" r="9"/><text x="1519" y="1010">発生</text></g>
<g id="p6-saigai"><circle class="b" cx="1632" cy="1018" r="36" fill-opacity=".85"/><circle class="b2" cx="1632" cy="1018" r="22"/><text x="1632" y="1018">災害</text></g>
<g id="p6-seibi"><circle class="b" cx="1791" cy="1005" r="17"/><circle class="b2" cx="1791" cy="1005" r="11"/><text x="1791" y="1005">整備</text></g>
<g id="p6-kotsu"><circle class="p" cx="1438" cy="1037" r="14"/><circle class="p2" cx="1438" cy="1037" r="9"/><text x="1438" y="1037">交通</text></g>
<g id="p6-hitsuyo"><circle class="b" cx="1730" cy="1041" r="17"/><circle class="b2" cx="1730" cy="1041" r="11"/><text x="1730" y="1041">必要</text></g>
<g id="p6-fusoku"><circle class="b" cx="1539" cy="1083" r="14"/><circle class="b2" cx="1539" cy="1083" r="9"/><text x="1539" y="1083">不足</text></g>
<g id="p6-network"><circle class="b" cx="1613" cy="1072" r="14"/><circle class="b2" cx="1613" cy="1072" r="9"/><text x="1613" y="1068">ネットワーク</text></g>
<g id="p6-kino"><circle class="b" cx="1677" cy="1084" r="14"/><circle class="b2" cx="1677" cy="1084" r="9"/><text x="1677" y="1084">機能</text></g>
</g>
<g id="highlights">
<circle class="ring" cx="283" cy="208" r="38"/>
<circle class="ring" cx="908" cy="178" r="27"/>
<circle class="ring" cx="1692" cy="310" r="30"/>
<circle class="ring" cx="257" cy="847" r="27"/>
<circle class="ring" cx="848" cy="898" r="33"/>
<circle class="ring" cx="1605" cy="953" r="30"/>
</g>
<g id="areas">
<polygon class="zg" points="139,100 191,65 343,64 468,124 463,203 405,212 295,362 245,362 200,280 143,180"/>
<polygon class="zp" points="56,313 110,312 120,402 82,407 13,382 13,352"/>
<polygon class="zg" points="759,120 869,68 908,68 976,267 848,321 787,268"/>
<polygon class="zp" points="1125,267 1184,265 1201,360 1160,392 1188,450 1136,472 1056,320"/>
<polygon class="zr" points="1002,397 1054,397 1051,460 1126,482 1121,530 1045,513 1034,553 897,553 897,518 995,518"/>
<polygon class="zg" points="1702,76 1740,77 1751,125 1603,397 1537,397 1492,317"/>
<polygon class="zr" points="1425,340 1464,326 1556,452 1558,540 1458,533 1402,475"/>
<polygon class="zo" points="314,758 460,707 494,740 494,967 332,952 321,825"/>
<polygon class="zg" points="295,763 221,812 212,825 178,918 256,1027 455,1007 451,972 340,972 337,912 360,892 348,835"/>
<polygon class="zl" points="271,960 332,993 325,1100 150,1098 150,1033 215,1033"/>
<polygon class="zg" points="874,626 934,617 995,618 1121,672 1106,712 958,763 924,822 934,827 989,850 971,893 908,883 885,942 811,935 796,842 793,812 900,718"/>
<polygon class="zo" points="791,927 817,943 880,947 897,910 939,913 984,1018 969,1042 946,1108 880,1097 800,1088 802,1018 770,962"/>
<polygon class="zp" points="1391,1015 1747,875 1869,924 1847,978 1736,968 1440,1082"/>
<polygon class="zb" points="1676,901 1820,992 1722,1103 1507,1105 1507,1062 1575,1045"/>
</g>
<g id="annotations">
<line x1="434" y1="108" x2="481" y2="100" stroke="#1aa84a" stroke-width="1.5"/>
<rect x="480" y="84" width="188" height="88" fill="#b5f5d2"/>
<text class="an" x="574" y="100" font-size="23" fill="#1fae52">通勤時間帯に</text>
<text class="an" x="574" y="129" font-size="23" fill="#1fae52">主要道路が渋滞し</text>
<text class="an" x="574" y="158" font-size="23" fill="#1fae52">時間が読めない</text>
<rect x="85" y="402" width="114" height="28" fill="#d9c4ee"/>
<text class="an" x="142" y="416" font-size="22" fill="#8a3fbf">バスも遅延</text>
<line x1="969" y1="230" x2="1125" y2="127" stroke="#1aa84a" stroke-width="1.5"/>
<rect x="1125" y="83" width="185" height="57" fill="#b5f5d2"/>
<text class="an" x="1217" y="98" font-size="22" fill="#1fae52">渋滞による事故が</text>
<text class="an" x="1217" y="126" font-size="22" fill="#1fae52">多いと感じている</text>
<rect x="1186" y="159" width="120" height="116" fill="#dcc5ef"/>
<text class="an" x="1246" y="174" font-size="23" fill="#7f3fbf">無理な</text>
<text class="an" x="1246" y="202" font-size="23" fill="#7f3fbf">車線変更や</text>
<text class="an" x="1246" y="231" font-size="23" fill="#7f3fbf">割り込みを</text>
<text class="an" x="1246" y="260" font-size="23" fill="#7f3fbf">危険視</text>
<rect x="1126" y="492" width="146" height="58" fill="#ffd3d6"/>
<text class="an" x="1199" y="508" font-size="23" fill="#ff1a1a">抜け道利用を</text>
<text class="an" x="1199" y="536" font-size="23" fill="#ff1a1a">危険視</text>
<line x1="1747" y1="125" x2="1815" y2="108" stroke="#1aa84a" stroke-width="1.5"/>
<rect x="1815" y="67" width="195" height="116" fill="#b5f5d2"/>
<text class="an" x="1912" y="83" font-size="21.5" fill="#1fae52">道路ネットワークが</text>
<text class="an" x="1912" y="112" font-size="21.5" fill="#1fae52">不十分であり</text>
<text class="an" x="1912" y="141" font-size="21.5" fill="#1fae52">都市圏での道路を</text>
<text class="an" x="1912" y="169" font-size="21.5" fill="#1fae52">望む声</text>
<rect x="1324" y="476" width="139" height="103" fill="#ffd3d6"/>
<text class="an" x="1393" y="489" font-size="22" fill="#ff1a1a">空港や駅</text>
<text class="an" x="1393" y="516" font-size="22" fill="#ff1a1a">高速道路への</text>
<text class="an" x="1393" y="543" font-size="22" fill="#ff1a1a">アクセス性が</text>
<text class="an" x="1393" y="568" font-size="22" fill="#ff1a1a">課題</text>
<rect x="449" y="666" width="193" height="58" fill="#ffeccb"/>
<text class="an" x="545" y="682" font-size="22" fill="#f7941d">空港や駅への</text>
<text class="an" x="545" y="710" font-size="22" fill="#f7941d">アクセス性が課題</text>
<rect x="21" y="1039" width="120" height="58" fill="#dcf2c8"/>
<text class="an" x="81" y="1055" font-size="23" fill="#8dc63f">公共交通が</text>
<text class="an" x="81" y="1083" font-size="23" fill="#8dc63f">少なく不便</text>
<rect x="401" y="1005" width="111" height="87" fill="#b5f5d2"/>
<text class="an" x="456" y="1021" font-size="21.5" fill="#1fae52">渋滞により</text>
<text class="an" x="456" y="1050" font-size="21.5" fill="#1fae52">時間が</text>
<text class="an" x="456" y="1079" font-size="21.5" fill="#1fae52">読めない</text>
<line x1="1114" y1="691" x2="1147" y2="683" stroke="#1aa84a" stroke-width="1.5"/>
<rect x="1147" y="620" width="184" height="88" fill="#b5f5d2"/>
<text class="an" x="1239" y="636" font-size="22" fill="#1fae52">救急車が</text>
<text class="an" x="1239" y="665" font-size="22" fill="#1fae52">渋滞に</text>
<text class="an" x="1239" y="694" font-size="22" fill="#1fae52">巻き込まれている</text>
<line x1="971" y1="1042" x2="1114" y2="1062" stroke="#f5b800" stroke-width="1.5"/>
<rect x="1113" y="1039" width="97" height="59" fill="#fffab0"/>
<text class="an" x="1161" y="1055" font-size="23" fill="#f2b600">搬送に</text>
<text class="an" x="1161" y="1083" font-size="23" fill="#f2b600">不安の声</text>
<line x1="1871" y1="787" x2="1773" y2="881" stroke="#7030a0" stroke-width="1.5"/>
<rect x="1872" y="713" width="119" height="88" fill="#dcc5ef"/>
<text class="an" x="1931" y="729" font-size="22.5" fill="#7f3fbf">震災時の</text>
<text class="an" x="1931" y="758" font-size="22.5" fill="#7f3fbf">渋滞を</text>
<text class="an" x="1931" y="787" font-size="22.5" fill="#7f3fbf">思い出す声</text>
<rect x="1807" y="1017" width="195" height="86" fill="#cfe7fc"/>
<text class="an" x="1904" y="1032" font-size="21" fill="#2e86de">災害時に機能する</text>
<text class="an" x="1904" y="1061" font-size="21" fill="#2e86de">道路ネットワークが</text>
<text class="an" x="1904" y="1090" font-size="21" fill="#2e86de">必要</text>
</g>
<g id="legends" class="lg">
<text x="607" y="243">【ワード出現数】</text>
<circle cx="590" cy="278" r="18"/><text x="651" y="278">1000</text>
<circle cx="590" cy="333" r="25"/><text x="651" y="333">2000</text>
<circle cx="590" cy="405" r="30"/><text x="651" y="405">3000</text>
<circle cx="590" cy="490" r="35"/><text x="651" y="490">4000</text>
<text x="1266" y="297">【ワード出現数】</text>
<circle cx="1259" cy="333" r="22"/><text x="1320" y="333">1000</text>
<circle cx="1259" cy="407" r="32"/><text x="1320" y="407">2000</text>
<text x="1948" y="227">【ワード出現数】</text>
<circle cx="1927" cy="262" r="19"/><text x="1993" y="262">400</text>
<circle cx="1927" cy="315" r="25"/><text x="1993" y="315">800</text>
<circle cx="1927" cy="386" r="31"/><text x="1993" y="386">1200</text>
<circle cx="1927" cy="470" r="35"/><text x="1993" y="470">1600</text>
<text x="568" y="788">【ワード出現数】</text>
<circle cx="568" cy="828" r="26"/><text x="646" y="828">1000</text>
<circle cx="568" cy="908" r="37"/><text x="646" y="908">2000</text>
<circle cx="568" cy="1012" r="44"/><text x="646" y="1012">3000</text>
<text x="1266" y="840">【ワード出現数】</text>
<circle cx="1249" cy="872" r="17"/><text x="1306" y="872">500</text>
<circle cx="1249" cy="923" r="24"/><text x="1306" y="923">1000</text>
<circle cx="1249" cy="991" r="29"/><text x="1306" y="991">1500</text>
<text x="1925" y="845">【ワード出現数】</text>
<circle cx="1922" cy="887" r="26"/><text x="1993" y="887">500</text>
<circle cx="1922" cy="967" r="36"/><text x="1993" y="967">1000</text>
</g>
</svg>
